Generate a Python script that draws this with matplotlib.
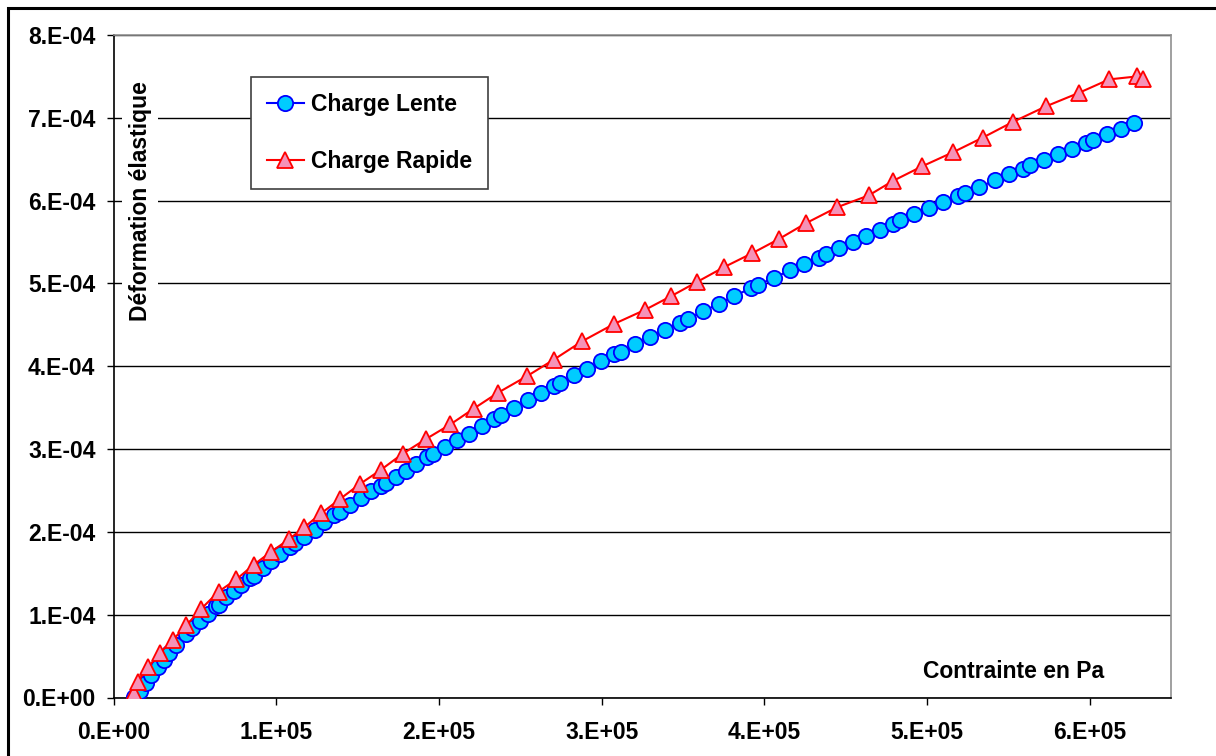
import matplotlib
matplotlib.use('Agg')
import matplotlib.pyplot as plt
from matplotlib.patches import Rectangle
import numpy as np

plt.rcParams['font.family'] = ['Liberation Sans', 'DejaVu Sans']
plt.rcParams['font.weight'] = 'bold'

# Charge Lente : contrainte (Pa) / deformation (x 1e-6)
lente_x = [12500, 16200, 19700, 23200, 27200, 30900, 34000, 38700, 44400, 48300,
           53000, 57900, 62700, 64700, 69400, 73900, 78600, 84200, 86600, 92000,
           97100, 102600, 108300, 111600, 117300, 123600, 129600, 135300, 139000, 145600,
           152200, 158500, 164400, 167500, 173400, 179500, 185700, 192700, 196400, 203500,
           210900, 218500, 226500, 234000, 238300, 246100, 254500, 262500, 270700, 274600,
           283200, 291200, 299600, 307700, 312200, 320800, 329900, 339100, 348300, 353400,
           362600, 372200, 381600, 391700, 396400, 406000, 415800, 424400, 433500, 437800,
           445900, 454400, 462500, 471100, 479300, 483500, 492100, 501400, 510000, 519000,
           523300, 532100, 541800, 550400, 559200, 563300, 571900, 580500, 588900, 597500,
           601800, 610400, 619000, 627300]
lente_y = [1.2, 7.6, 17.3, 26.6, 36.6, 45.5, 53.5, 64.0, 76.1, 84.2,
           92.1, 101.1, 109.9, 112.3, 121.1, 128.4, 136.1, 144.6, 147.3, 156.6,
           164.6, 172.7, 181.5, 186.3, 193.6, 201.7, 211.7, 219.8, 223.8, 231.9,
           240.9, 248.8, 256.0, 259.3, 266.1, 274.1, 281.8, 290.2, 294.3, 302.3,
           310.4, 318.5, 327.6, 336.6, 340.9, 349.4, 358.7, 367.5, 375.6, 380.1,
           388.9, 396.5, 405.8, 414.2, 417.5, 427.2, 435.1, 444.1, 452.5, 457.4,
           466.5, 475.5, 484.7, 494.3, 498.4, 506.9, 515.7, 523.8, 531.0, 535.0,
           542.6, 549.5, 557.1, 564.0, 572.1, 576.1, 583.7, 591.4, 598.2, 605.1,
           609.5, 616.3, 624.4, 632.5, 638.5, 642.5, 649.4, 656.6, 662.7, 669.9,
           673.5, 680.8, 686.8, 693.6]

# Charge Rapide
rapide_x = [12400, 12500, 14900, 21300, 28400, 36700, 44700, 53900, 64700, 75400,
            86200, 97100, 107700, 117300, 127800, 139400, 151700, 164400, 177700, 192300,
            207000, 221300, 236300, 254100, 270500, 287900, 307900, 326800, 342800, 358500,
            375300, 392700, 408900, 425700, 444900, 464200, 478900, 496900, 516200, 534200,
            552600, 573100, 593600, 612000, 629200, 632500]
rapide_y = [0.0, 5.5, 19.3, 36.6, 53.5, 70.0, 87.0, 107.1, 128.0, 142.5,
            160.3, 176.3, 190.8, 205.7, 222.6, 240.0, 258.1, 275.0, 294.3, 312.4,
            329.7, 348.7, 368.0, 388.0, 407.8, 430.0, 451.3, 468.2, 484.7, 501.6,
            519.7, 536.6, 553.5, 572.8, 592.1, 606.3, 623.6, 641.3, 658.6, 676.0,
            694.8, 713.8, 730.3, 746.4, 750.0, 747.2]

xticks = [0, 1e5, 2e5, 3e5, 4e5, 5e5, 6e5]
xtick_labels = ['0.E+00', '1.E+05', '2.E+05', '3.E+05', '4.E+05', '5.E+05', '6.E+05']
yticks = [0, 1e-4, 2e-4, 3e-4, 4e-4, 5e-4, 6e-4, 7e-4, 8e-4]
ytick_labels = ['0.E+00', '1.E-04', '2.E-04', '3.E-04', '4.E-04', '5.E-04', '6.E-04', '7.E-04', '8.E-04']

W, H = 1216, 756
L, R, T, B = 113.5, 1171, 35, 697.5
fig = plt.figure(figsize=(W / 100, H / 100), dpi=100)
ax = fig.add_axes([L / W, 1 - B / H, (R - L) / W, (B - T) / H])

ax.plot(lente_x, np.array(lente_y) * 1e-6, color='#0000FF', lw=1.5, marker='o',
        ms=11, mfc='#00CCFF', mec='#0000FF', mew=1.3, label='Charge Lente', zorder=3)
ax.plot(rapide_x, np.array(rapide_y) * 1e-6, color='#FF0000', lw=1.5, marker='^',
        ms=11.5, mfc='#F592B8', mec='#FF0000', mew=1.3, label='Charge Rapide', zorder=4)

ax.set_xlim(0, 6.5e5)
ax.set_ylim(0, 8e-4)
ax.set_xticks(xticks)
ax.set_xticklabels(xtick_labels)
ax.set_yticks(yticks)
ax.set_yticklabels(ytick_labels)
ax.tick_params(axis='both', direction='out', length=5, width=1, labelsize=16.5, color='black')
ax.tick_params(axis='x', pad=12)
ax.tick_params(axis='y', pad=8)
for lab in ax.get_xticklabels() + ax.get_yticklabels():
    lab.set_fontweight('bold')

ax.yaxis.grid(True, color='black', lw=1)
ax.set_axisbelow(True)
ax.spines['left'].set_color('black')
ax.spines['bottom'].set_color('black')
ax.spines['top'].set_color('#909090')
ax.spines['right'].set_color('#909090')
for s in ax.spines.values():
    s.set_linewidth(1.2)

# axis titles drawn inside the plot area, as in the original
ax.text((140 - L) / (R - L), (B - 201.5) / (B - T), 'Déformation élastique',
        rotation=90, ha='center', va='center', transform=ax.transAxes, fontsize=16.5,
        fontweight='bold', bbox=dict(fc='white', ec='none', pad=5), zorder=2.5)
ax.text((1014 - L) / (R - L), (B - 672) / (B - T), 'Contrainte en Pa',
        ha='center', va='center', transform=ax.transAxes, fontsize=16.5, fontweight='bold')

leg = ax.legend(loc='upper left', bbox_to_anchor=((251 - L) / (R - L), (B - 77) / (B - T)),
                borderaxespad=0, frameon=True, fancybox=False, numpoints=1,
                handlelength=1.6, handletextpad=0.3, labelspacing=1.5, borderpad=0.7,
                prop={'weight': 'bold', 'size': 16.5})
leg.get_frame().set_edgecolor('#404040')
leg.get_frame().set_linewidth(1.2)
leg.get_frame().set_alpha(1)

# outer chart frame (only top and left edges visible in the crop)
fig.patches.append(Rectangle((8 / W, -0.5), 2, 1.5 - 8 / H, fill=False, ec='black', lw=2.2,
                             transform=fig.transFigure))

fig.savefig('out.png', dpi=100)
